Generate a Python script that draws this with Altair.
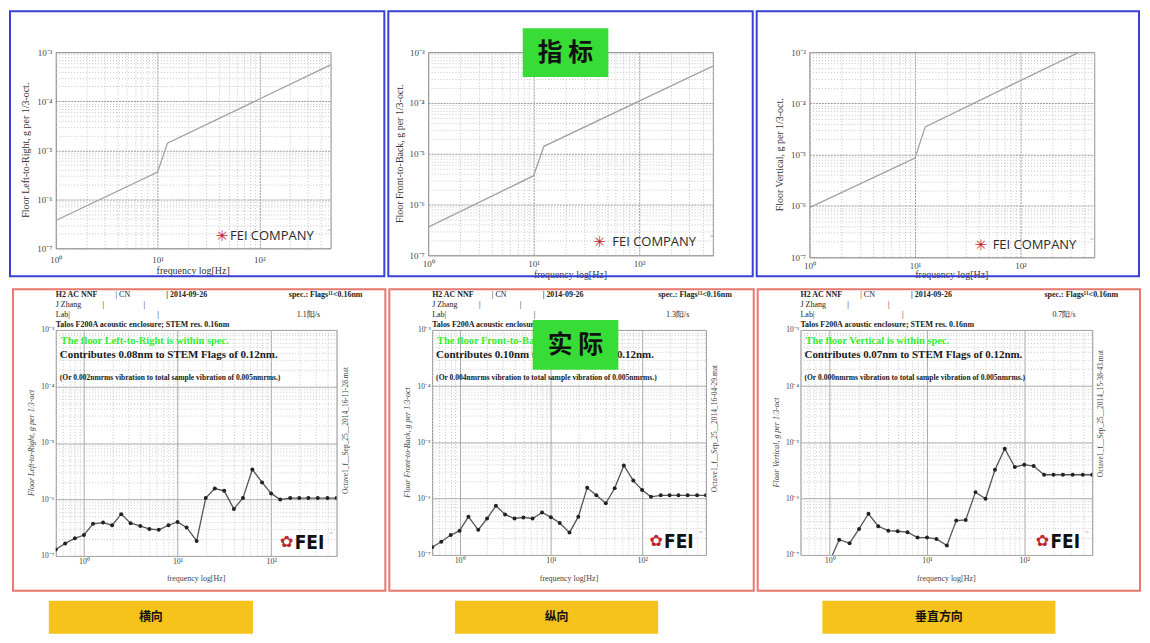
import altair as alt
import pandas as pd
import math

# ---------------- data ----------------
spec_freq = [1, 10, 12.5, 500]
spec_lr = [3.7e-7, 3.6e-6, 1.4e-5, 5.5e-4]
spec_fb = [3.6e-7, 3.7e-6, 1.4e-5, 5.3e-4]
spec_v_freq = [1, 10, 12.5, 360]
spec_v = [9.3e-7, 8.6e-6, 3.5e-5, 1.0e-3]

oct_freq = [0.5, 0.63, 0.8, 1, 1.25, 1.6, 2, 2.5, 3.15, 4, 5, 6.3, 8, 10, 12.5, 16,
            20, 25, 31.5, 40, 50, 63, 80, 100, 125, 160, 200, 250, 315, 400, 500]
meas_lr = [1.3e-7, 1.67e-7, 2.05e-7, 2.35e-7, 3.7e-7, 3.9e-7, 3.5e-7, 5.5e-7,
           3.8e-7, 3.4e-7, 3.0e-7, 2.9e-7, 3.5e-7, 4.0e-7, 3.2e-7, 1.84e-7,
           1.06e-6, 1.56e-6, 1.42e-6, 6.8e-7, 1.06e-6, 3.4e-6, 2.0e-6, 1.28e-6,
           1.0e-6, 1.06e-6, 1.06e-6, 1.06e-6, 1.06e-6, 1.06e-6, 1.06e-6]
meas_fb = [1.37e-7, 1.72e-7, 2.26e-7, 2.7e-7, 4.8e-7, 2.8e-7, 4.45e-7, 7.5e-7,
           5.25e-7, 4.45e-7, 4.65e-7, 4.45e-7, 5.7e-7, 4.7e-7, 3.7e-7, 2.5e-7,
           4.8e-7, 1.56e-6, 1.15e-6, 8.3e-7, 1.53e-6, 3.9e-6, 2.1e-6, 1.43e-6,
           1.08e-6, 1.15e-6, 1.15e-6, 1.15e-6, 1.15e-6, 1.15e-6, 1.15e-6]
meas_v = [5e-8, 6e-8, 7e-8, 7.8e-8, 1.87e-7, 1.62e-7, 2.9e-7, 5.4e-7,
          3.24e-7, 2.7e-7, 2.64e-7, 2.54e-7, 2.04e-7, 2.04e-7, 1.93e-7, 1.47e-7,
          4.1e-7, 4.2e-7, 1.31e-6, 1.0e-6, 3.28e-6, 7.76e-6, 3.66e-6, 4.03e-6,
          3.81e-6, 2.67e-6, 2.67e-6, 2.67e-6, 2.67e-6, 2.67e-6, 2.67e-6]

axis_names = ["Left-to-Right", "Front-to-Back", "Vertical"]
contrib = ["0.08nm", "0.10nm", "0.07nm"]
rms_part = ["0.002nmrms", "0.004nmrms", "0.000nmrms"]
rates = ["1.1阳/s", "1.3阳/s", "0.7阳/s"]
files = ["Octave1_f__Sep_25__2014_16-11-28.mat",
         "Octave1_f__Sep_25__2014_16-04-29.mat",
         "Octave1_f__Sep_25__2014_15-38-43.mat"]
bottom_labels = ["横向", "纵向", "垂直方向"]

SERIF = "Liberation Serif"
SUP = str.maketrans("0123456789-", "⁰¹²³⁴⁵⁶⁷⁸⁹⁻")
ONE = alt.Data(values=[{"k": 0}])


def log_vals(lo, hi):
    out = []
    for e in range(-9, 4):
        for m in range(1, 10):
            v = float(f"{m}e{e}")
            if lo * 0.999 <= v <= hi * 1.001:
                out.append(v)
    return out


def decades(vals):
    return [v for v in vals if f"{v:e}".startswith("1.000000")]


def make_axis(lo, hi, size, pad, major_col, minor_col, major_dash, minor_dash, gw=1):
    vals = log_vals(lo, hi)
    decs = decades(vals)
    expr = "''"
    for v in reversed(decs):
        e = round(math.log10(v))
        lab = "10" + str(e).translate(SUP)
        expr = f"datum.value == {v!r} ? '{lab}' : {expr}"
    test = " || ".join(f"datum.value == {v!r}" for v in decs)
    return alt.Axis(values=vals, labelExpr=expr, title=None, grid=True, ticks=False,
                    domain=False, labelFont=SERIF, labelFontSize=size, labelColor="#444",
                    labelPadding=pad, labelOverlap=False, labelFlush=False, labelBound=False,
                    gridWidth=gw,
                    gridColor={"condition": {"test": test, "value": major_col}, "value": minor_col},
                    gridDash={"condition": {"test": test, "value": major_dash}, "value": minor_dash})


def txt(x, y, s, size=8, color="#222", weight="normal", font=SERIF, align="left",
        baseline="middle", angle=0, style="normal"):
    kw = dict(fontSize=size, color=color, fontWeight=weight, font=font, align=align,
              baseline=baseline, fontStyle=style)
    if angle:
        kw["angle"] = angle
    return alt.Chart(ONE).mark_text(**kw).encode(
        x=alt.value(x), y=alt.value(y), text=alt.value(s))


def box(x1, x2, y1, y2, fill=None, stroke=None, sw=2):
    if fill:
        m = alt.Chart(ONE).mark_rect(fill=fill, strokeWidth=0)
    else:
        m = alt.Chart(ONE).mark_rect(fillOpacity=0, stroke=stroke, strokeWidth=sw)
    return m.encode(x=alt.value(x1), x2=alt.value(x2), y=alt.value(y1), y2=alt.value(y2))


# ---------------- top row: specification curves ----------------
top_cfg = [
    dict(W=276, H=197, bx=(-46, 330), by=(-41, 225), yt=-30, xl=7, xt=220, star=167, logo=175, ly=185),
    dict(W=286, H=204, bx=(-40, 326), by=(-41, 225), yt=-28, xl=4, xt=224, star=172, logo=185, ly=191),
    dict(W=286, H=206, bx=(-53, 331), by=(-41, 225), yt=-30, xl=4, xt=224, star=172, logo=184, ly=194),
]
spec_sets = [(spec_freq, spec_lr), (spec_freq, spec_fb), (spec_v_freq, spec_v)]

top_panels = []
for i, c in enumerate(top_cfg):
    f, a = spec_sets[i]
    df = pd.DataFrame({"f": f, "a": a})
    W, H = c["W"], c["H"]
    line = alt.Chart(df).mark_line(color="#a0a0a0", strokeWidth=1.3, clip=True).encode(
        x=alt.X("f:Q", scale=alt.Scale(type="log", domain=[1, 500], nice=False),
                axis=make_axis(1, 500, 9, c["xl"], "#9a9a9a", "#c4c4c4", [2, 1], [1, 2])),
        y=alt.Y("a:Q", scale=alt.Scale(type="log", domain=[1e-7, 1e-3], nice=False),
                axis=make_axis(1e-7, 1e-3, 9, 4, "#9a9a9a", "#c4c4c4", [2, 1], [1, 2])),
    )
    layers = [
        line,
        txt(c["yt"], H / 2, f"Floor {axis_names[i]},  g per 1/3-oct.", size=10,
            align="center", angle=270, color="#333"),
        txt(W / 2, c["xt"], "frequency  log[Hz]", size=10, align="center", color="#333"),
        txt(c["star"], c["ly"], "✳", size=15, color="#c0262d", font="DejaVu Sans", align="center"),
        txt(c["logo"], c["ly"], "FEI COMPANY", size=13, color="#2a2a2a", font="Open Sans"),
        txt(c["logo"] + 97, c["ly"] - 5, "™", size=5, color="#444", font="DejaVu Sans"),
    ]
    if i == 1:
        layers += [
            box(522 - 427, 608 - 427, 28 - 52, 77 - 52, fill="#37dc37"),
            txt((522 + 608) / 2 - 427, (28 + 77) / 2 - 52, "指 标", size=25, color="#111",
                font="Noto Sans CJK SC", weight="bold", align="center"),
        ]
    layers.append(box(c["bx"][0], c["bx"][1], c["by"][0], c["by"][1], stroke="#3a40d4", sw=2))
    top_panels.append(alt.layer(*layers).properties(width=W, height=H))

# ---------------- bottom row: measured spectra ----------------
bot_cfg = [
    dict(W=282, H=227, ox=52, oy=328, bx=(-43, 331), by=(-41, 262), fy=101, yb=(45, 250)),
    dict(W=275, H=226, ox=430, oy=328, bx=(-43, 323), by=(-41, 262), fy=99, yb=(453, 657)),
    dict(W=293, H=226, ox=800, oy=328, bx=(-43, 341), by=(-41, 262), fy=84, yb=(822, 1056)),
]
meas_sets = [meas_lr, meas_fb, meas_v]

bot_panels = []
for i, c in enumerate(bot_cfg):
    df = pd.DataFrame({"f": oct_freq, "a": meas_sets[i]})
    W, H, ox, oy = c["W"], c["H"], c["ox"], c["oy"]
    xenc = alt.X("f:Q", scale=alt.Scale(type="log", domain=[0.5, 500], nice=False),
                 axis=make_axis(0.5, 500, 8, 2, "#a8a8a8", "#c8c8c8", [], [1, 2]))
    yenc = alt.Y("a:Q", scale=alt.Scale(type="log", domain=[1e-7, 1e-3], nice=False),
                 axis=make_axis(1e-7, 1e-3, 7.5, 2, "#a8a8a8", "#c8c8c8", [], [1, 2]))
    base = alt.Chart(df).encode(x=xenc, y=yenc)
    layers = [
        base.mark_line(color="#555", strokeWidth=1.3, clip=True),
        base.mark_point(shape="circle", filled=True, size=16, color="#222", opacity=1, clip=True),
        # header lines
        txt(0, 293 - oy, "H2 AC NNF", weight="bold"),
        txt(60, 293 - oy, "| CN"),
        txt(111, 293 - oy, "| 2014-09-26", weight="bold"),
        txt(W + 26, 293 - oy, "spec.: Flags¹¹<0.16nm", weight="bold", align="right"),
        txt(0, 303 - oy, "J Zhang"),
        txt(47, 303 - oy, "|"),
        txt(88, 303 - oy, "|"),
        txt(0, 313 - oy, "Lab|"),
        txt(102, 313 - oy, "|"),
        txt(W - 40, 313 - oy, rates[i]),
        txt(0, 323 - oy, "Talos F200A acoustic enclosure; STEM res. 0.16nm", weight="bold"),
        # in-plot messages
        txt(5, 339 - oy, f"The floor {axis_names[i]} is within spec.", size=10.5,
            color="#33ee33", weight="bold"),
        txt(4, 353 - oy, f"Contributes {contrib[i]} to STEM Flags of 0.12nm.", size=11,
            color="#1a1a1a", weight="bold"),
        txt(4, 376 - oy,
            f"(Or {rms_part[i]} vibration to total sample vibration of 0.005nmrms.)",
            size=7.6, color="#1a1a1a", weight="bold"),
        # axis titles and side text
        txt(-24, H / 2, f"Floor {axis_names[i]},  g per 1/3-oct", size=8, align="center",
            angle=270, color="#444", style="italic"),
        txt(W / 2, 578 - oy, "frequency  log[Hz]", size=8, align="center", color="#444"),
        txt(W + 9, c["fy"], files[i], size=7.5, align="center", angle=270, color="#444"),
        # FEI logo
        txt(W - 50, H - 14, "✿", size=16, color="#c0262d", font="DejaVu Sans", align="center"),
        txt(W - 42, H - 13, "FEI", size=19, color="#111",
            font="DejaVu Sans Condensed, Liberation Sans Narrow, DejaVu Sans", weight="bold"),
        txt(W - 8, H - 22, "™", size=5, color="#444", font="DejaVu Sans"),
        # bottom yellow label
        box(c["yb"][0] - ox, c["yb"][1] - ox, 600 - oy, 633 - oy, fill="#f6c21c"),
        txt((c["yb"][0] + c["yb"][1]) / 2 - ox, 616.5 - oy, bottom_labels[i], size=12,
            color="#111", font="Noto Sans CJK SC", weight="bold", align="center"),
    ]
    if i == 1:
        layers += [
            box(531 - ox, 617 - ox, 318 - oy, 368 - oy, fill="#37dc37"),
            txt((531 + 617) / 2 - ox, 343 - oy, "实 际", size=25, color="#111",
                font="Noto Sans CJK SC", weight="bold", align="center"),
        ]
    layers.append(box(c["bx"][0], c["bx"][1], c["by"][0], c["by"][1], stroke="#e8786e", sw=2))
    bot_panels.append(alt.layer(*layers).properties(width=W, height=H))

chart = alt.vconcat(
    alt.hconcat(*top_panels, spacing=0),
    alt.hconcat(*bot_panels, spacing=0),
    spacing=6,
).properties(padding=0, background="white").configure_view(stroke="#8a8a8a", strokeWidth=1)

chart.save("out.html", embed_options={"renderer": "svg", "actions": False})
